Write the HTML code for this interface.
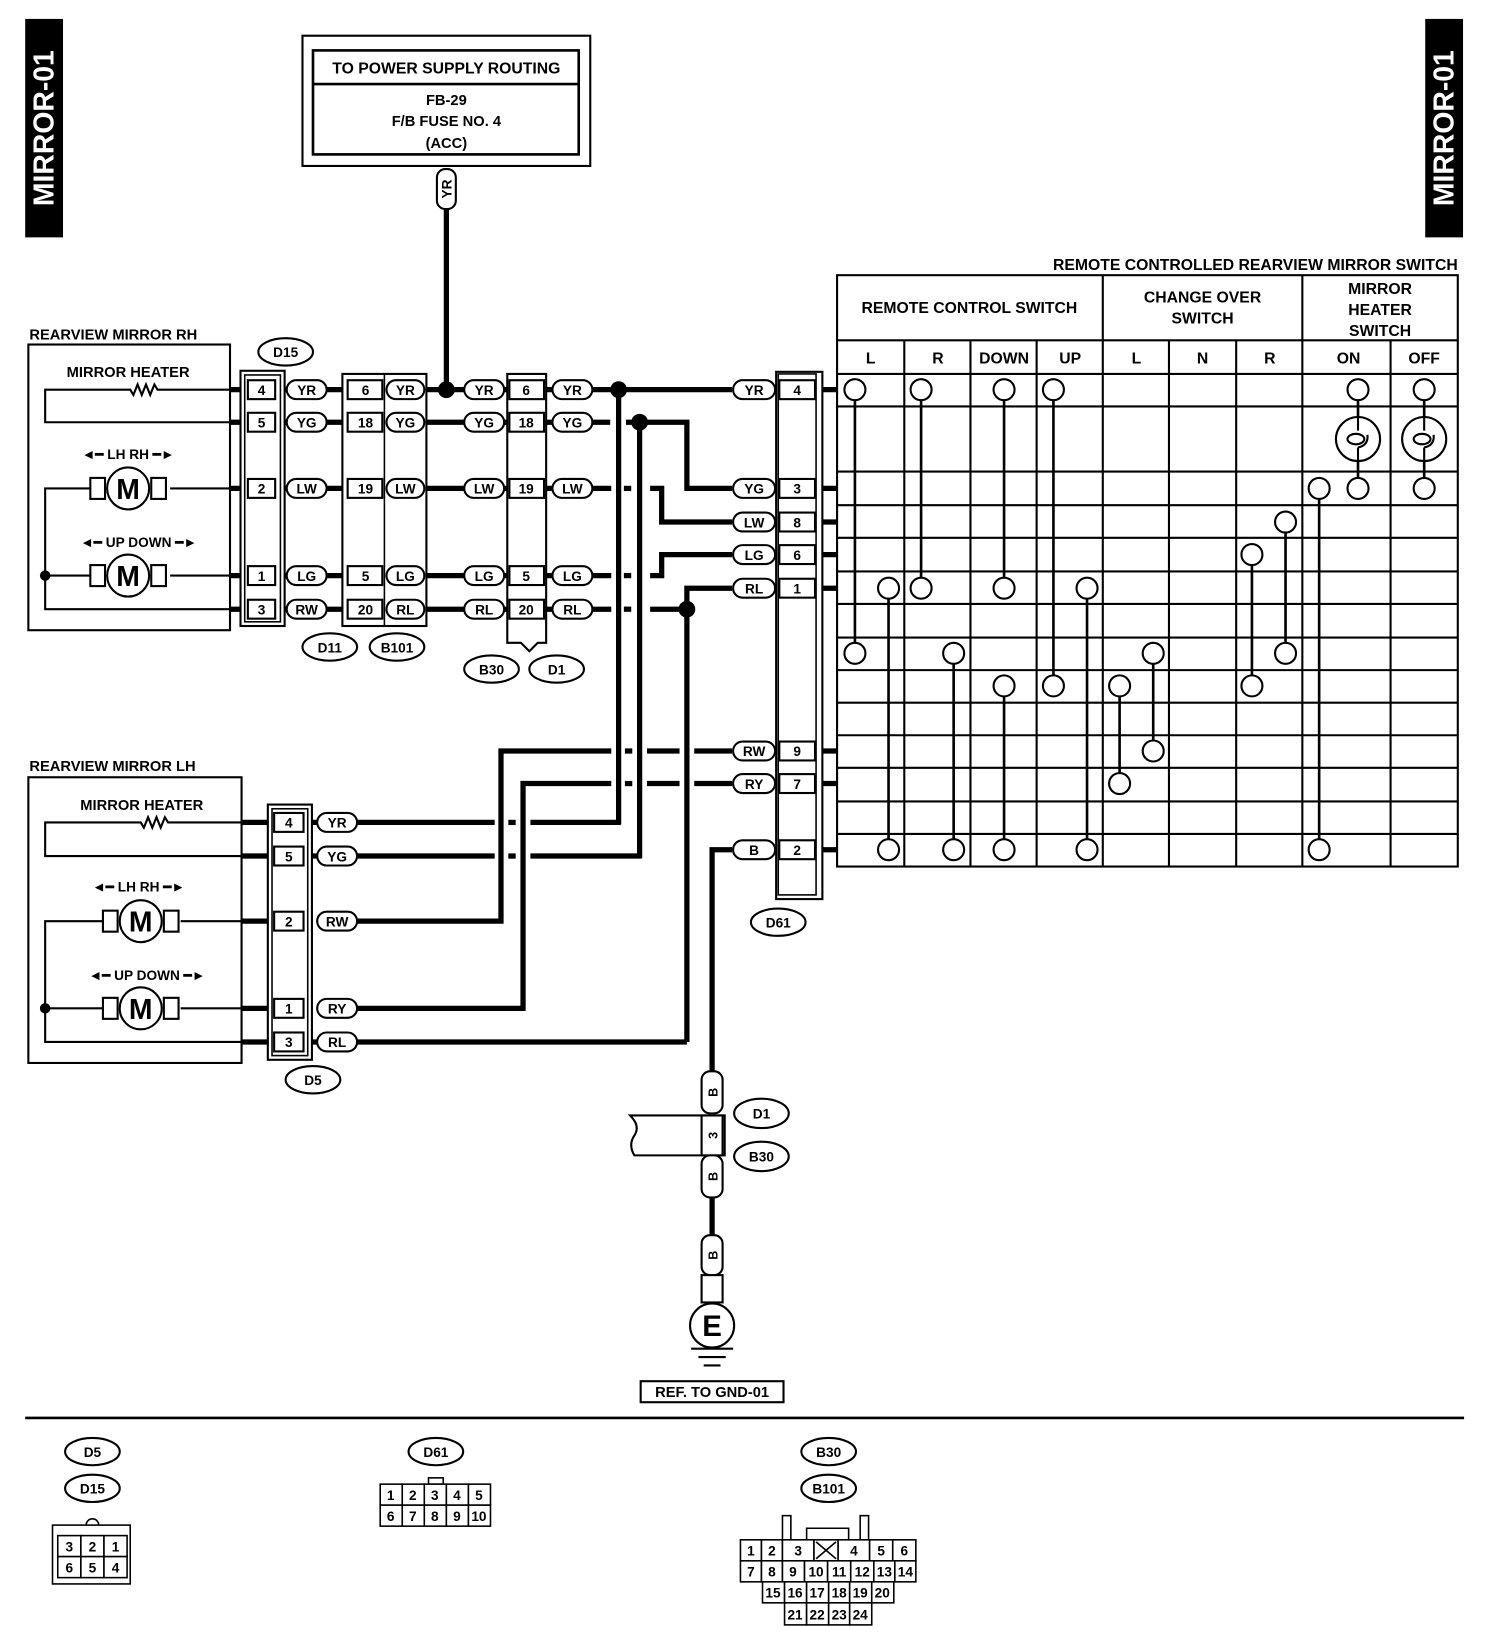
<!DOCTYPE html>
<html><head><meta charset="utf-8"><style>
html,body{margin:0;padding:0;background:#fff;}
svg{display:block;}
text{font-family:"Liberation Sans",sans-serif;font-weight:bold;fill:#000;}
</style></head><body>
<svg width="1504" height="1648" viewBox="0 0 1432 1569" preserveAspectRatio="none" xmlns="http://www.w3.org/2000/svg">
<rect x="0" y="0" width="1432" height="1569" fill="#fff"/>
<rect x="24" y="18" width="36" height="208" fill="#000"/>
<text transform="translate(51,122) rotate(-90)" text-anchor="middle" font-size="27" style="fill:#fff">MIRROR-01</text>
<rect x="1357" y="18" width="36" height="208" fill="#000"/>
<text transform="translate(1384,122) rotate(-90)" text-anchor="middle" font-size="27" style="fill:#fff">MIRROR-01</text>

<rect x="288" y="34" width="274" height="124" fill="none" stroke="#000" stroke-width="2"/>
<rect x="298" y="48" width="253" height="99" fill="none" stroke="#000" stroke-width="2.5"/>
<line x1="298" y1="80" x2="551" y2="80" stroke="#000" stroke-width="2.5"/>
<text x="425" y="70" text-anchor="middle" font-size="15">TO POWER SUPPLY ROUTING</text>
<text x="425" y="100" text-anchor="middle" font-size="14">FB-29</text>
<text x="425" y="120" text-anchor="middle" font-size="14">F/B FUSE NO. 4</text>
<text x="425" y="141" text-anchor="middle" font-size="14">(ACC)</text>
<line x1="425" y1="198" x2="425" y2="371" stroke="#000" stroke-width="5"/>
<rect x="416" y="161" width="18" height="38" rx="8" fill="#fff" stroke="#000" stroke-width="2"/>
<text transform="translate(430,180) rotate(-90)" text-anchor="middle" font-size="13">YR</text>

<g stroke="#000" stroke-width="5" fill="none">
<line x1="219" y1="371" x2="697" y2="371"/>
<line x1="219" y1="402" x2="581" y2="402"/>
<path d="M596 402 H654 V465 H697"/>
<line x1="219" y1="465" x2="582" y2="465"/>
<line x1="219" y1="548" x2="582" y2="548"/>
<line x1="219" y1="580" x2="582" y2="580"/>
<line x1="594" y1="465" x2="601" y2="465"/>
<line x1="594" y1="548" x2="601" y2="548"/>
<line x1="594" y1="580" x2="601" y2="580"/>
<path d="M619 465 H630 V497 H697"/>
<path d="M619 548 H630 V528 H697"/>
<path d="M619 580 H654"/>
<path d="M654 992 V560 H697"/>
<line x1="589" y1="371" x2="589" y2="785"/>
<line x1="609" y1="402" x2="609" y2="817"/>
<path d="M340 877 H477 V715 H582"/>
<line x1="595" y1="715" x2="602" y2="715"/>
<line x1="616" y1="715" x2="647" y2="715"/>
<line x1="661" y1="715" x2="697" y2="715"/>
<path d="M340 960 H498 V746 H582"/>
<line x1="595" y1="746" x2="602" y2="746"/>
<line x1="616" y1="746" x2="647" y2="746"/>
<line x1="661" y1="746" x2="697" y2="746"/>
<line x1="230" y1="783" x2="471" y2="783"/>
<line x1="484" y1="783" x2="491" y2="783"/>
<line x1="505" y1="783" x2="591" y2="783"/>
<line x1="230" y1="815" x2="471" y2="815"/>
<line x1="484" y1="815" x2="491" y2="815"/>
<line x1="505" y1="815" x2="611" y2="815"/>
<line x1="230" y1="877" x2="260" y2="877"/>
<line x1="230" y1="960" x2="260" y2="960"/>
<line x1="230" y1="992" x2="654" y2="992"/>
<line x1="777" y1="371" x2="797" y2="371"/>
<line x1="777" y1="465" x2="797" y2="465"/>
<line x1="777" y1="497" x2="797" y2="497"/>
<line x1="777" y1="528" x2="797" y2="528"/>
<line x1="777" y1="560" x2="797" y2="560"/>
<line x1="777" y1="715" x2="797" y2="715"/>
<line x1="777" y1="746" x2="797" y2="746"/>
<line x1="777" y1="809" x2="797" y2="809"/>
<path d="M697 809 H678 V1022"/>
<line x1="678" y1="1138" x2="678" y2="1178"/>
</g>
<g fill="#000">
<circle cx="425" cy="371" r="8"/><circle cx="589" cy="371" r="8"/>
<circle cx="609" cy="402" r="8"/><circle cx="654" cy="580" r="8"/>
</g>

<text x="28" y="323" font-size="14">REARVIEW MIRROR RH</text>
<rect x="27" y="328" width="192" height="272" fill="none" stroke="#000" stroke-width="2"/>
<text x="122" y="359" text-anchor="middle" font-size="14">MIRROR HEATER</text>
<g stroke="#000" stroke-width="2" fill="none">
<path d="M230 371 H150 l-3 -5 l-4 10 l-4 -10 l-4 10 l-4 -10 l-4 10 l-3 -5 H43 V402 H230"/>
<path d="M230 465 H162 M86 465 H43 V580 H230 M43 548 H86 M162 548 H230"/>
</g>
<g stroke="#000" stroke-width="2" fill="#fff">
<rect x="86" y="455" width="14" height="20"/><rect x="144" y="455" width="14" height="20"/>
<circle cx="122" cy="465" r="20"/>
<rect x="86" y="538" width="14" height="20"/><rect x="144" y="538" width="14" height="20"/>
<circle cx="122" cy="548" r="20"/>
</g>
<circle cx="43" cy="548" r="5" fill="#000"/>
<text x="122" y="475" text-anchor="middle" font-size="27">M</text>
<text x="122" y="558" text-anchor="middle" font-size="27">M</text>
<text x="122" y="437" text-anchor="middle" font-size="13">◄━ LH  RH ━►</text>
<text x="132" y="521" text-anchor="middle" font-size="13">◄━ UP  DOWN ━►</text>

<rect x="229" y="353" width="42" height="243" fill="#fff" stroke="#000" stroke-width="2"/>
<rect x="233" y="357" width="34" height="235" fill="#fff" stroke="#000" stroke-width="1.5"/>
<g stroke="#000" stroke-width="2" fill="#fff">
<rect x="236" y="362" width="26" height="18"/><rect x="236" y="393" width="26" height="18"/>
<rect x="236" y="456" width="26" height="18"/><rect x="236" y="539" width="26" height="18"/>
<rect x="236" y="571" width="26" height="18"/>
</g>
<g font-size="13" text-anchor="middle">
<text x="249" y="376">4</text><text x="249" y="407">5</text><text x="249" y="470">2</text><text x="249" y="553">1</text><text x="249" y="585">3</text>
</g>
<rect x="326" y="356" width="80" height="240" fill="#fff" stroke="#000" stroke-width="2"/>
<line x1="366" y1="356" x2="366" y2="596" stroke="#000" stroke-width="1.5"/>
<g stroke="#000" stroke-width="2" fill="#fff">
<rect x="331" y="362" width="33" height="18"/><rect x="331" y="393" width="33" height="18"/>
<rect x="331" y="456" width="33" height="18"/><rect x="331" y="539" width="33" height="18"/>
<rect x="331" y="571" width="33" height="18"/>
</g>
<g font-size="13" text-anchor="middle">
<text x="348" y="376">6</text><text x="348" y="407">18</text><text x="348" y="470">19</text><text x="348" y="553">5</text><text x="348" y="585">20</text>
</g>
<path d="M483 356 H520 V612 L512 612 L504 620 L496 612 H483 Z" fill="#fff" stroke="#000" stroke-width="2"/>
<g stroke="#000" stroke-width="2" fill="#fff">
<rect x="485" y="362" width="33" height="18"/><rect x="485" y="393" width="33" height="18"/>
<rect x="485" y="456" width="33" height="18"/><rect x="485" y="539" width="33" height="18"/>
<rect x="485" y="571" width="33" height="18"/>
</g>
<g font-size="13" text-anchor="middle">
<text x="501" y="376">6</text><text x="501" y="407">18</text><text x="501" y="470">19</text><text x="501" y="553">5</text><text x="501" y="585">20</text>
</g>

<g stroke="#000" stroke-width="2" fill="#fff">
<rect x="273" y="362" width="38" height="18" rx="9"/><rect x="273" y="393" width="38" height="18" rx="9"/>
<rect x="273" y="456" width="38" height="18" rx="9"/><rect x="273" y="539" width="38" height="18" rx="9"/>
<rect x="273" y="571" width="38" height="18" rx="9"/>
<rect x="368" y="362" width="36" height="18" rx="9"/><rect x="368" y="393" width="36" height="18" rx="9"/>
<rect x="368" y="456" width="36" height="18" rx="9"/><rect x="368" y="539" width="36" height="18" rx="9"/>
<rect x="368" y="571" width="36" height="18" rx="9"/>
<rect x="442" y="362" width="38" height="18" rx="9"/><rect x="442" y="393" width="38" height="18" rx="9"/>
<rect x="442" y="456" width="38" height="18" rx="9"/><rect x="442" y="539" width="38" height="18" rx="9"/>
<rect x="442" y="571" width="38" height="18" rx="9"/>
<rect x="526" y="362" width="38" height="18" rx="9"/><rect x="526" y="393" width="38" height="18" rx="9"/>
<rect x="526" y="456" width="38" height="18" rx="9"/><rect x="526" y="539" width="38" height="18" rx="9"/>
<rect x="526" y="571" width="38" height="18" rx="9"/>
</g>
<g font-size="13" text-anchor="middle">
<text x="292" y="376">YR</text><text x="292" y="407">YG</text><text x="292" y="470">LW</text><text x="292" y="553">LG</text><text x="292" y="585">RW</text>
<text x="386" y="376">YR</text><text x="386" y="407">YG</text><text x="386" y="470">LW</text><text x="386" y="553">LG</text><text x="386" y="585">RL</text>
<text x="461" y="376">YR</text><text x="461" y="407">YG</text><text x="461" y="470">LW</text><text x="461" y="553">LG</text><text x="461" y="585">RL</text>
<text x="545" y="376">YR</text><text x="545" y="407">YG</text><text x="545" y="470">LW</text><text x="545" y="553">LG</text><text x="545" y="585">RL</text>
</g>
<g stroke="#000" stroke-width="2" fill="#fff">
<ellipse cx="272" cy="335" rx="26" ry="13"/>
<ellipse cx="314" cy="616" rx="26" ry="13"/><ellipse cx="378" cy="616" rx="26" ry="13"/>
<ellipse cx="468" cy="637" rx="26" ry="13"/><ellipse cx="530" cy="637" rx="26" ry="13"/>
<ellipse cx="741" cy="878" rx="26" ry="13"/><ellipse cx="298" cy="1028" rx="26" ry="13"/>
<ellipse cx="725" cy="1060" rx="26" ry="14"/><ellipse cx="725" cy="1101" rx="26" ry="14"/>
<ellipse cx="88" cy="1382" rx="26" ry="13"/><ellipse cx="88" cy="1417" rx="26" ry="13"/>
<ellipse cx="415" cy="1382" rx="26" ry="13"/>
<ellipse cx="789" cy="1382" rx="26" ry="13"/><ellipse cx="789" cy="1417" rx="26" ry="13"/>
</g>
<g font-size="13" text-anchor="middle">
<text x="272" y="340">D15</text><text x="314" y="621">D11</text><text x="378" y="621">B101</text>
<text x="468" y="642">B30</text><text x="530" y="642">D1</text><text x="741" y="883">D61</text>
<text x="298" y="1033">D5</text><text x="725" y="1065">D1</text><text x="725" y="1106">B30</text>
<text x="88" y="1387">D5</text><text x="88" y="1422">D15</text><text x="415" y="1387">D61</text>
<text x="789" y="1387">B30</text><text x="789" y="1422">B101</text>
</g>

<text x="28" y="734" font-size="14">REARVIEW MIRROR LH</text>
<rect x="27" y="740" width="203" height="272" fill="none" stroke="#000" stroke-width="2"/>
<text x="135" y="771" text-anchor="middle" font-size="14">MIRROR HEATER</text>
<g stroke="#000" stroke-width="2" fill="none">
<path d="M258 783 H160 l-3 -5 l-4 10 l-4 -10 l-4 10 l-4 -10 l-4 10 l-3 -5 H43 V815 H258"/>
<path d="M258 877 H172 M98 877 H43 V992 H258 M43 960 H98 M172 960 H258"/>
</g>
<g stroke="#000" stroke-width="2" fill="#fff">
<rect x="98" y="867" width="14" height="20"/><rect x="156" y="867" width="14" height="20"/>
<circle cx="134" cy="877" r="20"/>
<rect x="98" y="950" width="14" height="20"/><rect x="156" y="950" width="14" height="20"/>
<circle cx="134" cy="960" r="20"/>
</g>
<circle cx="43" cy="960" r="5" fill="#000"/>
<text x="134" y="887" text-anchor="middle" font-size="27">M</text>
<text x="134" y="970" text-anchor="middle" font-size="27">M</text>
<text x="132" y="849" text-anchor="middle" font-size="13">◄━ LH  RH ━►</text>
<text x="140" y="933" text-anchor="middle" font-size="13">◄━ UP  DOWN ━►</text>
<rect x="255" y="766" width="42" height="243" fill="#fff" stroke="#000" stroke-width="2"/>
<rect x="259" y="770" width="34" height="235" fill="#fff" stroke="#000" stroke-width="1.5"/>
<g stroke="#000" stroke-width="2" fill="#fff">
<rect x="261" y="774" width="28" height="18"/><rect x="261" y="806" width="28" height="18"/>
<rect x="261" y="868" width="28" height="18"/><rect x="261" y="951" width="28" height="18"/>
<rect x="261" y="983" width="28" height="18"/>
<rect x="302" y="774" width="38" height="18" rx="9"/><rect x="302" y="806" width="38" height="18" rx="9"/>
<rect x="302" y="868" width="38" height="18" rx="9"/><rect x="302" y="951" width="38" height="18" rx="9"/>
<rect x="302" y="983" width="38" height="18" rx="9"/>
</g>
<g font-size="13" text-anchor="middle">
<text x="275" y="788">4</text><text x="275" y="820">5</text><text x="275" y="882">2</text><text x="275" y="965">1</text><text x="275" y="997">3</text>
<text x="321" y="788">YR</text><text x="321" y="820">YG</text><text x="321" y="882">RW</text><text x="321" y="965">RY</text><text x="321" y="997">RL</text>
</g>

<rect x="739" y="354" width="44" height="502" fill="#fff" stroke="#000" stroke-width="2"/>
<rect x="741" y="356" width="36" height="496" fill="#fff" stroke="#000" stroke-width="1.5"/>
<g stroke="#000" stroke-width="2" fill="#fff">
<rect x="742" y="362" width="34" height="18"/><rect x="742" y="456" width="34" height="18"/>
<rect x="742" y="488" width="34" height="18"/><rect x="742" y="519" width="34" height="18"/>
<rect x="742" y="551" width="34" height="18"/><rect x="742" y="706" width="34" height="18"/>
<rect x="742" y="737" width="34" height="18"/><rect x="742" y="800" width="34" height="18"/>
<rect x="698" y="362" width="40" height="18" rx="9"/><rect x="698" y="456" width="40" height="18" rx="9"/>
<rect x="698" y="488" width="40" height="18" rx="9"/><rect x="698" y="519" width="40" height="18" rx="9"/>
<rect x="698" y="551" width="40" height="18" rx="9"/><rect x="698" y="706" width="40" height="18" rx="9"/>
<rect x="698" y="737" width="40" height="18" rx="9"/><rect x="698" y="800" width="40" height="18" rx="9"/>
</g>
<g font-size="13" text-anchor="middle">
<text x="759" y="376">4</text><text x="759" y="470">3</text><text x="759" y="502">8</text><text x="759" y="533">6</text>
<text x="759" y="565">1</text><text x="759" y="720">9</text><text x="759" y="751">7</text><text x="759" y="814">2</text>
<text x="718" y="376">YR</text><text x="718" y="470">YG</text><text x="718" y="502">LW</text><text x="718" y="533">LG</text>
<text x="718" y="565">RL</text><text x="718" y="720">RW</text><text x="718" y="751">RY</text><text x="718" y="814">B</text>
</g>

<text x="1388" y="257" text-anchor="end" font-size="15">REMOTE CONTROLLED REARVIEW MIRROR SWITCH</text>
<g stroke="#000" stroke-width="2" fill="none">
<rect x="797" y="262" width="591" height="563"/>
<line x1="797" y1="324" x2="1388" y2="324"/>
<line x1="1050" y1="262" x2="1050" y2="825"/>
<line x1="1240" y1="262" x2="1240" y2="825"/>
<line x1="861" y1="324" x2="861" y2="825"/><line x1="924" y1="324" x2="924" y2="825"/>
<line x1="987" y1="324" x2="987" y2="825"/><line x1="1113" y1="324" x2="1113" y2="825"/>
<line x1="1177" y1="324" x2="1177" y2="825"/><line x1="1324" y1="324" x2="1324" y2="825"/>
<line x1="797" y1="356" x2="1388" y2="356"/><line x1="797" y1="387" x2="1388" y2="387"/>
<line x1="797" y1="449" x2="1388" y2="449"/><line x1="797" y1="481" x2="1388" y2="481"/>
<line x1="797" y1="512" x2="1388" y2="512"/><line x1="797" y1="544" x2="1388" y2="544"/>
<line x1="797" y1="575" x2="1388" y2="575"/><line x1="797" y1="607" x2="1388" y2="607"/>
<line x1="797" y1="638" x2="1388" y2="638"/><line x1="797" y1="669" x2="1388" y2="669"/>
<line x1="797" y1="700" x2="1388" y2="700"/><line x1="797" y1="731" x2="1388" y2="731"/>
<line x1="797" y1="763" x2="1388" y2="763"/><line x1="797" y1="794" x2="1388" y2="794"/>
</g>
<g font-size="15" text-anchor="middle">
<text x="923" y="298">REMOTE CONTROL SWITCH</text>
<text x="1145" y="288">CHANGE OVER</text><text x="1145" y="308">SWITCH</text>
<text x="1314" y="280">MIRROR</text><text x="1314" y="300">HEATER</text><text x="1314" y="320">SWITCH</text>
<text x="829" y="346">L</text><text x="893" y="346">R</text><text x="956" y="346">DOWN</text><text x="1019" y="346">UP</text>
<text x="1082" y="346">L</text><text x="1145" y="346">N</text><text x="1209" y="346">R</text>
<text x="1284" y="346">ON</text><text x="1356" y="346">OFF</text>
</g>
<g stroke="#000" stroke-width="2.5">
<line x1="814" y1="371" x2="814" y2="622"/><line x1="877" y1="371" x2="877" y2="560"/>
<line x1="956" y1="371" x2="956" y2="560"/><line x1="956" y1="653" x2="956" y2="809"/>
<line x1="1003" y1="371" x2="1003" y2="653"/><line x1="846" y1="560" x2="846" y2="809"/>
<line x1="1035" y1="560" x2="1035" y2="809"/><line x1="908" y1="622" x2="908" y2="809"/>
<line x1="1098" y1="622" x2="1098" y2="715"/><line x1="1066" y1="653" x2="1066" y2="746"/>
<line x1="1192" y1="528" x2="1192" y2="653"/><line x1="1224" y1="497" x2="1224" y2="622"/>
<line x1="1256" y1="465" x2="1256" y2="809"/><line x1="1293" y1="371" x2="1293" y2="465"/>
<line x1="1356" y1="371" x2="1356" y2="465"/>
</g>
<g stroke="#000" stroke-width="2" fill="#fff">
<circle cx="814" cy="371" r="10"/><circle cx="877" cy="371" r="10"/><circle cx="956" cy="371" r="10"/>
<circle cx="1003" cy="371" r="10"/><circle cx="1293" cy="371" r="10"/><circle cx="1356" cy="371" r="10"/>
<circle cx="1293" cy="418" r="21"/><circle cx="1356" cy="418" r="21"/>
<circle cx="1256" cy="465" r="10"/><circle cx="1293" cy="465" r="10"/><circle cx="1356" cy="465" r="10"/>
<circle cx="1224" cy="497" r="10"/><circle cx="1192" cy="528" r="10"/>
<circle cx="846" cy="560" r="10"/><circle cx="877" cy="560" r="10"/><circle cx="956" cy="560" r="10"/><circle cx="1035" cy="560" r="10"/>
<circle cx="814" cy="622" r="10"/><circle cx="908" cy="622" r="10"/><circle cx="1098" cy="622" r="10"/><circle cx="1224" cy="622" r="10"/>
<circle cx="956" cy="653" r="10"/><circle cx="1003" cy="653" r="10"/><circle cx="1066" cy="653" r="10"/><circle cx="1192" cy="653" r="10"/>
<circle cx="1098" cy="715" r="10"/><circle cx="1066" cy="746" r="10"/>
<circle cx="846" cy="809" r="10"/><circle cx="908" cy="809" r="10"/><circle cx="956" cy="809" r="10"/><circle cx="1035" cy="809" r="10"/><circle cx="1256" cy="809" r="10"/>
</g>
<g stroke="#000" stroke-width="2" fill="none">
<path d="M1293 397 V410 M1293 426 Q1303 424 1302 414 M1293 439 V426"/>
<ellipse cx="1291" cy="418" rx="8" ry="5"/>
<path d="M1356 397 V410 M1356 426 Q1366 424 1365 414 M1356 439 V426"/>
<ellipse cx="1354" cy="418" rx="8" ry="5"/>
</g>

<g stroke="#000" stroke-width="2" fill="#fff">
<path d="M600 1062 H690 V1100 H604 Q598 1090 604 1081 Q610 1072 600 1062 Z"/>
<rect x="668" y="1062" width="20" height="38"/>
<rect x="668" y="1020" width="20" height="40" rx="8"/>
<rect x="668" y="1100" width="20" height="40" rx="8"/>
<rect x="668" y="1176" width="20" height="38" rx="8"/>
<rect x="668" y="1214" width="20" height="26"/>
<circle cx="678" cy="1262" r="21"/>
</g>
<g font-size="12" text-anchor="middle">
<text transform="translate(683,1040) rotate(-90)">B</text>
<text transform="translate(683,1081) rotate(-90)">3</text>
<text transform="translate(683,1120) rotate(-90)">B</text>
<text transform="translate(683,1195) rotate(-90)">B</text>
</g>
<text x="678" y="1272" text-anchor="middle" font-size="28">E</text>
<g stroke="#000" stroke-width="2">
<line x1="658" y1="1284" x2="698" y2="1284"/><line x1="665" y1="1292" x2="691" y2="1292"/><line x1="670" y1="1300" x2="686" y2="1300"/>
</g>
<rect x="610" y="1315" width="136" height="20" fill="#fff" stroke="#000" stroke-width="2"/>
<text x="678" y="1330" text-anchor="middle" font-size="14">REF. TO GND-01</text>

<line x1="24" y1="1350" x2="1394" y2="1350" stroke="#000" stroke-width="2.5"/>

<g stroke="#000" stroke-width="1.5" fill="#fff">
<path d="M82 1452 A6 6 0 0 1 94 1452"/>
<rect x="50" y="1452" width="74" height="56"/>
<rect x="55" y="1462" width="22" height="20"/><rect x="77" y="1462" width="22" height="20"/><rect x="99" y="1462" width="22" height="20"/>
<rect x="55" y="1482" width="22" height="20"/><rect x="77" y="1482" width="22" height="20"/><rect x="99" y="1482" width="22" height="20"/>
<rect x="408" y="1407" width="14" height="6"/>
<rect x="362" y="1413" width="21" height="20"/><rect x="383" y="1413" width="21" height="20"/><rect x="404" y="1413" width="21" height="20"/><rect x="425" y="1413" width="21" height="20"/><rect x="446" y="1413" width="21" height="20"/>
<rect x="362" y="1433" width="21" height="20"/><rect x="383" y="1433" width="21" height="20"/><rect x="404" y="1433" width="21" height="20"/><rect x="425" y="1433" width="21" height="20"/><rect x="446" y="1433" width="21" height="20"/>
<rect x="745" y="1443" width="8" height="23"/><rect x="819" y="1443" width="8" height="23"/>
<path d="M768 1466 V1455 H808 V1466" fill="none"/>
<rect x="705" y="1466" width="20" height="20"/><rect x="725" y="1466" width="20" height="20"/><rect x="745" y="1466" width="30" height="20"/>
<rect x="775" y="1466" width="23" height="20"/><rect x="798" y="1466" width="30" height="20"/><rect x="828" y="1466" width="22" height="20"/><rect x="850" y="1466" width="22" height="20"/>
<rect x="705" y="1486" width="20" height="20"/><rect x="725" y="1486" width="20" height="20"/><rect x="745" y="1486" width="21" height="20"/><rect x="766" y="1486" width="22" height="20"/>
<rect x="788" y="1486" width="22" height="20"/><rect x="810" y="1486" width="22" height="20"/><rect x="832" y="1486" width="20" height="20"/><rect x="852" y="1486" width="20" height="20"/>
<rect x="726" y="1506" width="21" height="20"/><rect x="747" y="1506" width="21" height="20"/><rect x="768" y="1506" width="21" height="20"/><rect x="789" y="1506" width="20" height="20"/><rect x="809" y="1506" width="21" height="20"/><rect x="830" y="1506" width="21" height="20"/>
<rect x="747" y="1526" width="21" height="21"/><rect x="768" y="1526" width="21" height="21"/><rect x="789" y="1526" width="20" height="21"/><rect x="809" y="1526" width="21" height="21"/>
</g>
<g stroke="#000" stroke-width="1.5"><line x1="777" y1="1468" x2="796" y2="1484"/><line x1="796" y1="1468" x2="777" y2="1484"/></g>
<g font-size="13" text-anchor="middle" style="font-weight:normal">
<text x="66" y="1477">3</text><text x="88" y="1477">2</text><text x="110" y="1477">1</text>
<text x="66" y="1497">6</text><text x="88" y="1497">5</text><text x="110" y="1497">4</text>
<text x="372" y="1428">1</text><text x="393" y="1428">2</text><text x="414" y="1428">3</text><text x="435" y="1428">4</text><text x="456" y="1428">5</text>
<text x="372" y="1448">6</text><text x="393" y="1448">7</text><text x="414" y="1448">8</text><text x="435" y="1448">9</text><text x="456" y="1448">10</text>
<text x="715" y="1481">1</text><text x="735" y="1481">2</text><text x="760" y="1481">3</text><text x="813" y="1481">4</text><text x="839" y="1481">5</text><text x="861" y="1481">6</text>
<text x="715" y="1501">7</text><text x="735" y="1501">8</text><text x="755" y="1501">9</text><text x="777" y="1501">10</text><text x="799" y="1501">11</text><text x="821" y="1501">12</text><text x="842" y="1501">13</text><text x="862" y="1501">14</text>
<text x="736" y="1521">15</text><text x="757" y="1521">16</text><text x="778" y="1521">17</text><text x="799" y="1521">18</text><text x="819" y="1521">19</text><text x="840" y="1521">20</text>
<text x="757" y="1542">21</text><text x="778" y="1542">22</text><text x="799" y="1542">23</text><text x="819" y="1542">24</text>
</g>
</svg>
</body></html>
